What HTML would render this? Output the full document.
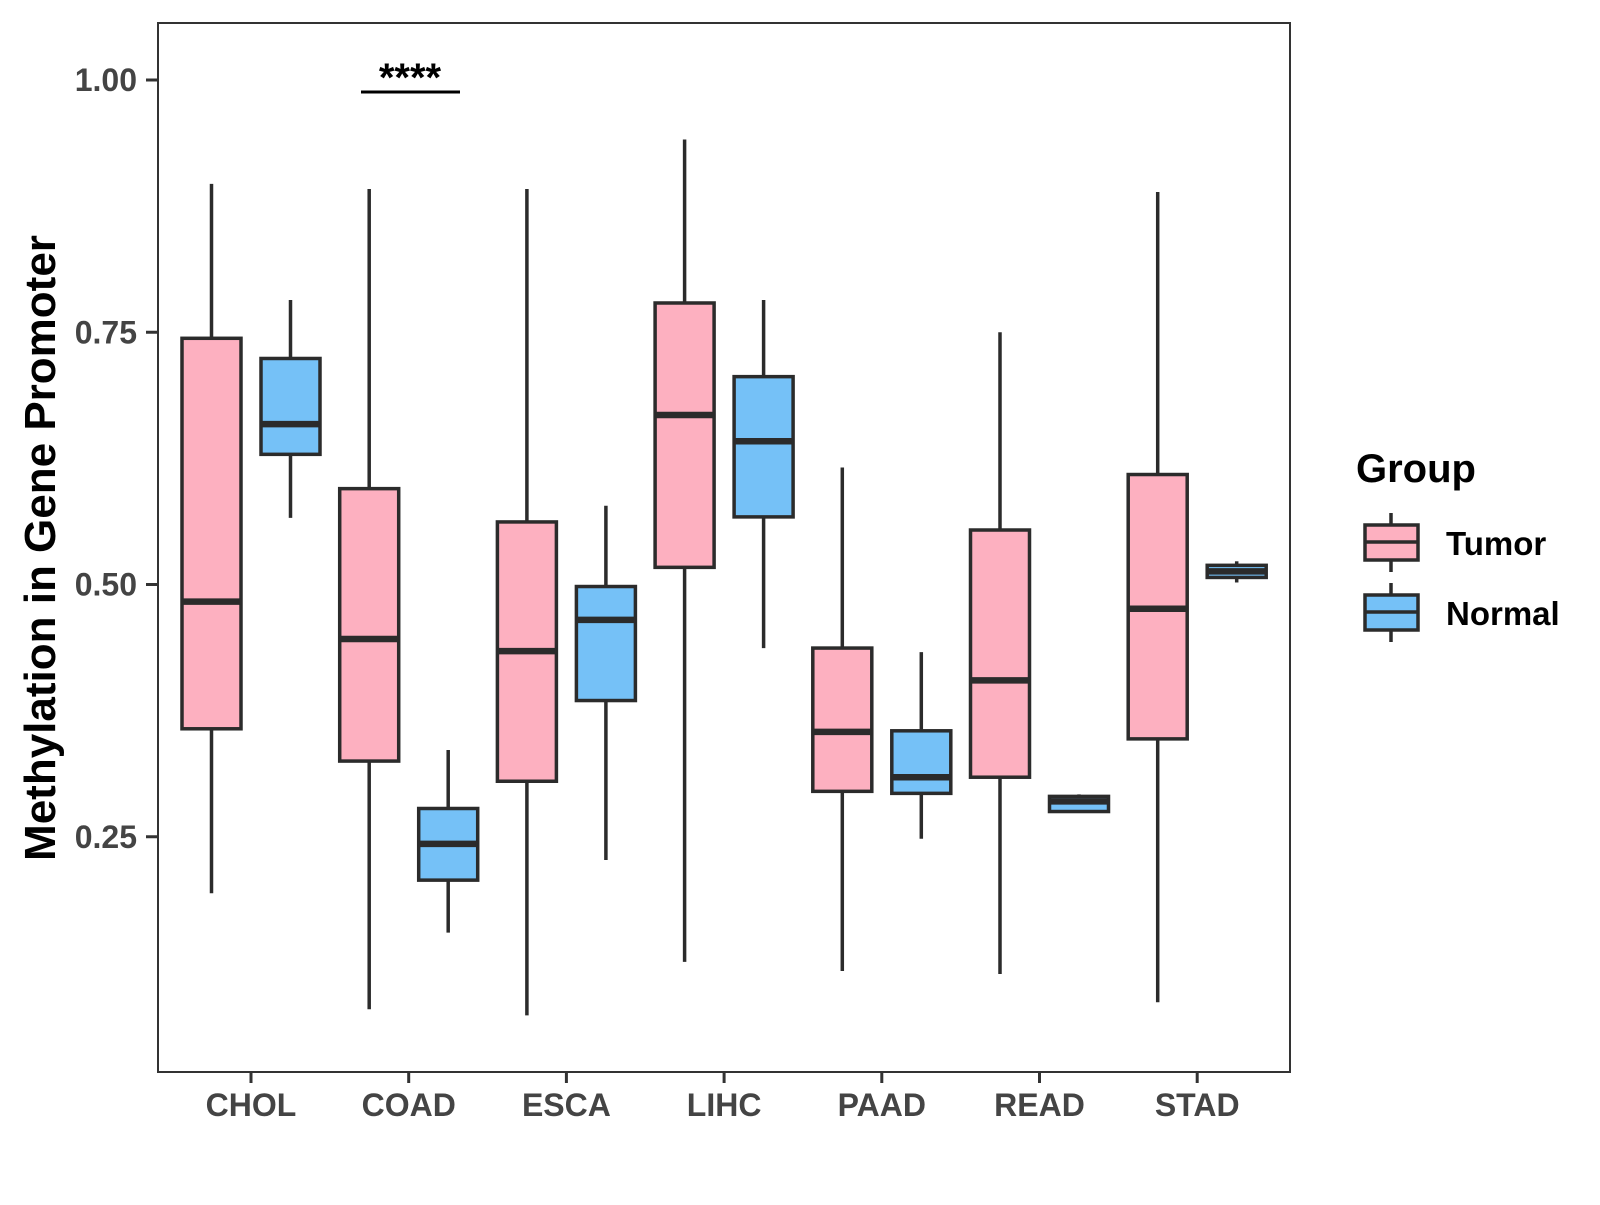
<!DOCTYPE html>
<html><head><meta charset="utf-8"><style>
html,body{margin:0;padding:0;background:#fff;}
svg text{font-family:"Liberation Sans",Arial,sans-serif;font-weight:bold;}
</style></head><body>
<svg id="chart" width="1600" height="1200" viewBox="0 0 1600 1200" xmlns="http://www.w3.org/2000/svg">
<rect x="0" y="0" width="1600" height="1200" fill="#fff"/>
<g id="marks"></g>
<rect x="158" y="23" width="1132" height="1049" fill="none" stroke="#333" stroke-width="2"/>
<g id="axes"></g>
<text transform="translate(55,548) rotate(-90)" text-anchor="middle" font-size="44" fill="#000">Methylation in Gene Promoter</text>
<g>
<line x1="361" x2="460" y1="92" y2="92" stroke="#000" stroke-width="3"/>
<text x="410" y="91" text-anchor="middle" font-size="40" fill="#000">****</text>
</g>
<g transform="translate(-7,-2)">
<text x="1363" y="484" font-size="40" fill="#000">Group</text>
<g>
<line x1="1398" x2="1398" y1="515" y2="574" stroke="#2b2b2b" stroke-width="3.5"/>
<rect x="1372" y="527" width="53" height="35" fill="#FDB0C0" stroke="#2b2b2b" stroke-width="3.5"/>
<line x1="1372" x2="1425" y1="544" y2="544" stroke="#2b2b2b" stroke-width="3.5"/>
<text x="1453" y="557" font-size="33" fill="#000">Tumor</text>
</g>
<g>
<line x1="1398" x2="1398" y1="585" y2="644" stroke="#2b2b2b" stroke-width="3.5"/>
<rect x="1372" y="597" width="53" height="35" fill="#75C1F7" stroke="#2b2b2b" stroke-width="3.5"/>
<line x1="1372" x2="1425" y1="614" y2="614" stroke="#2b2b2b" stroke-width="3.5"/>
<text x="1453" y="627" font-size="33" fill="#000">Normal</text>
</g>
</g>
</svg>
<script>
const categories = ["CHOL","COAD","ESCA","LIHC","PAAD","READ","STAD"];
const tumorStats = [
 [0.194,0.357,0.483,0.744,0.897],
 [0.079,0.325,0.446,0.595,0.892],
 [0.073,0.305,0.434,0.562,0.892],
 [0.126,0.517,0.668,0.779,0.941],
 [0.117,0.295,0.354,0.437,0.616],
 [0.114,0.309,0.405,0.554,0.750],
 [0.086,0.347,0.476,0.609,0.889]];
const normalStats = [
 [0.566,0.629,0.659,0.724,0.782],
 [0.155,0.207,0.243,0.278,0.336],
 [0.227,0.385,0.465,0.498,0.578],
 [0.437,0.567,0.642,0.706,0.782],
 [0.248,0.293,0.309,0.355,0.433],
 [0.274,0.275,0.285,0.290,0.292],
 [0.502,0.507,0.513,0.519,0.523]];
const yTicks = [0.25,0.5,0.75,1.0];
const yTickLabels = ["0.25","0.50","0.75","1.00"];

const NS="http://www.w3.org/2000/svg";
function yScale(v){return 80+(1-v)*1009;}
function xScale(i){return 251+157.7*i;}
const marks=document.getElementById('marks');
const axes=document.getElementById('axes');
function mk(tag,attrs,parent){const e=document.createElementNS(NS,tag);for(const k in attrs)e.setAttribute(k,attrs[k]);parent.appendChild(e);return e;}
function drawBox(cx,s,fill,name){
  const g=mk('g',{},marks);
  
  
  const hw=29.5, st='#2b2b2b';
  mk('line',{x1:cx,x2:cx,y1:yScale(s[4]),y2:yScale(s[0]),stroke:st,'stroke-width':3.5},g);
  mk('rect',{x:cx-hw,y:yScale(s[3]),width:2*hw,height:Math.max(yScale(s[1])-yScale(s[3]),0.1),fill:fill,stroke:st,'stroke-width':3.5},g);
  mk('line',{x1:cx-hw,x2:cx+hw,y1:yScale(s[2]),y2:yScale(s[2]),stroke:st,'stroke-width':6.5},g);
}
categories.forEach((c,i)=>{
  drawBox(xScale(i)-39.5,tumorStats[i],'#FDB0C0','box-tumor-'+c.toLowerCase());
  drawBox(xScale(i)+39.5,normalStats[i],'#75C1F7','box-normal-'+c.toLowerCase());
  const t=mk('line',{x1:xScale(i),x2:xScale(i),y1:1072,y2:1083,stroke:'#333','stroke-width':3},axes);
  
  
  const l=mk('text',{x:xScale(i),y:1116,'text-anchor':'middle','font-size':32,fill:'#444'},axes);
  
  
  l.textContent=c;
});
yTicks.forEach((v,i)=>{
  const t=mk('line',{x1:146,x2:158,y1:yScale(v),y2:yScale(v),stroke:'#333','stroke-width':3},axes);
  
  
  const l=mk('text',{x:137,y:yScale(v)+11,'text-anchor':'end','font-size':32,fill:'#444'},axes);
  
  
  l.textContent=yTickLabels[i];
});
</script>
</body></html>
